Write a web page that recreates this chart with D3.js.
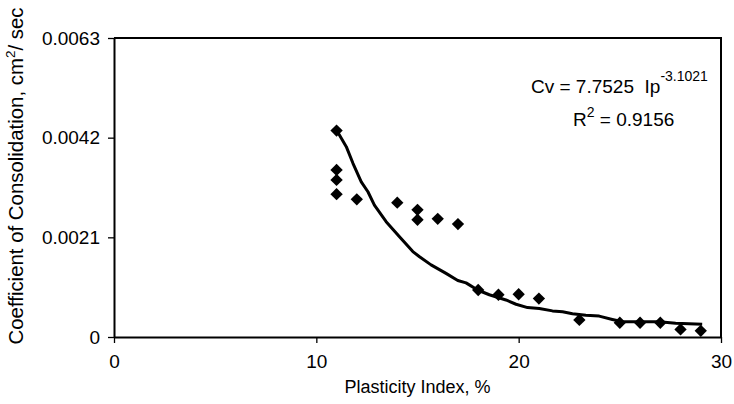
<!DOCTYPE html>
<html>
<head>
<meta charset="utf-8">
<script src="https://cdn.jsdelivr.net/npm/d3@7"></script>
<style>
  body { margin: 0; background: #fff; }
  svg text { font-family: "Liberation Sans", Arial, sans-serif; fill: #000; }
</style>
</head>
<body>
<div id="chart"></div>
<script>
// measured points, Plasticity Index (%) vs Cv (cm2/sec)
var ipValues = [11, 11, 11, 11, 12, 14, 15, 15, 16, 17, 18, 19, 20, 21, 23, 25, 26, 27, 28, 29];
var cvValues = [0.00435, 0.00352, 0.00331, 0.00301, 0.00290, 0.00283, 0.00268, 0.00247, 0.00249, 0.00238,
                0.00099, 0.00089, 0.00090, 0.00081, 0.00036, 0.00030, 0.00030, 0.00030, 0.00016, 0.00013];

// power trend line as it appears in the picture
var trendIp = [11.04, 11.48, 11.81, 12.22, 12.55, 12.87, 13.45, 14.11, 14.77, 15.10, 15.67, 16.41, 16.99, 17.40,
               17.97, 18.55, 19.37, 19.87, 20.44, 21.02, 21.67, 22.17, 22.66, 23.32, 23.98, 24.63, 25.13, 25.95,
               26.94, 27.76, 29.07];
var trendCv = [0.00433, 0.00401, 0.00366, 0.00327, 0.00306, 0.00278, 0.00243, 0.00211, 0.00180, 0.00169, 0.00152,
               0.00134, 0.00119, 0.00114, 0.00099, 0.00089, 0.00078, 0.00069, 0.00062, 0.00060, 0.00055, 0.00053,
               0.00049, 0.00046, 0.00044, 0.00037, 0.00032, 0.00032, 0.00032, 0.00029, 0.00027];

var xTicks = [0, 10, 20, 30];
var yTicks = [0, 0.0021, 0.0042, 0.0063];
var yTickLabels = ["0", "0.0021", "0.0042", "0.0063"];

var width = 734, height = 404;
var mLeft = 114, mRight = 721, mTop = 38, mBottom = 337;

var svg = d3.select("#chart").append("svg")
    .attr("width", width)
    .attr("height", height);

var x = d3.scaleLinear().domain([0, 30]).range([mLeft, mRight]);
var y = d3.scaleLinear().domain([0, 0.0063]).range([mBottom, mTop]);

// plot frame (top + right)
svg.append("path")
    .attr("d", "M" + mLeft + "," + mTop + "H" + mRight + "V" + mBottom)
    .attr("fill", "none")
    .attr("stroke", "#000")
    .attr("stroke-width", 2);

var xAxis = svg.append("g")
    .attr("transform", "translate(0," + mBottom + ")")
    .call(d3.axisBottom(x).tickValues(xTicks).tickSize(6).tickPadding(12).tickSizeOuter(0));

var yAxis = svg.append("g")
    .attr("transform", "translate(" + mLeft + ",0)")
    .call(d3.axisLeft(y).tickValues(yTicks).tickSize(6).tickPadding(8).tickSizeOuter(0)
        .tickFormat(function(d, i) { return yTickLabels[i]; }));

[xAxis, yAxis].forEach(function(ax) {
    ax.select(".domain").attr("stroke", "#000").attr("stroke-width", 2);
    ax.selectAll(".tick line").attr("stroke", "#000").attr("stroke-width", 1.3);
    ax.selectAll(".tick text")
        .style("font-family", "'Liberation Sans', Arial, sans-serif")
        .style("font-size", "19px")
        .attr("fill", "#000");
});

// trend line
var pts = trendIp.map(function(d, i) { return [d, trendCv[i]]; });
svg.append("path")
    .datum(pts)
    .attr("fill", "none")
    .attr("stroke", "#000")
    .attr("stroke-width", 3)
    .attr("stroke-linejoin", "round")
    .attr("d", d3.line()
        .x(function(d) { return x(d[0]); })
        .y(function(d) { return y(d[1]); }));

// diamonds
var diamond = d3.symbol().type(d3.symbolSquare).size(76);
svg.append("g").selectAll("path")
    .data(ipValues)
    .enter().append("path")
    .attr("d", diamond)
    .attr("fill", "#000")
    .attr("transform", function(d, i) {
        return "translate(" + x(d) + "," + y(cvValues[i]) + ") rotate(45)";
    });

// axis titles
svg.append("text")
    .attr("x", (mLeft + mRight) / 2)
    .attr("y", 393)
    .attr("text-anchor", "middle")
    .style("font-size", "18px")
    .text("Plasticity Index, %");

var yt = svg.append("text")
    .attr("transform", "translate(23,176) rotate(-90)")
    .attr("text-anchor", "middle")
    .style("font-size", "20.4px");
yt.append("tspan").text("Coefficient of Consolidation, cm");
yt.append("tspan").attr("dy", -8).style("font-size", "13.5px").text("2");
yt.append("tspan").attr("dy", 8).text("/ sec");

// equation
var eq = svg.append("text")
    .attr("x", 531)
    .attr("y", 93)
    .style("font-size", "19px")
    .attr("xml:space", "preserve");
eq.append("tspan").text("Cv = 7.7525  Ip");
eq.append("tspan").attr("dy", -12).style("font-size", "14px").text("-3.1021");

var r2 = svg.append("text")
    .attr("x", 573)
    .attr("y", 126)
    .style("font-size", "19px")
    .attr("xml:space", "preserve");
r2.append("tspan").text("R");
r2.append("tspan").attr("dy", -9).style("font-size", "14px").text("2");
r2.append("tspan").attr("dy", 9).text(" = 0.9156");
</script>
</body>
</html>
